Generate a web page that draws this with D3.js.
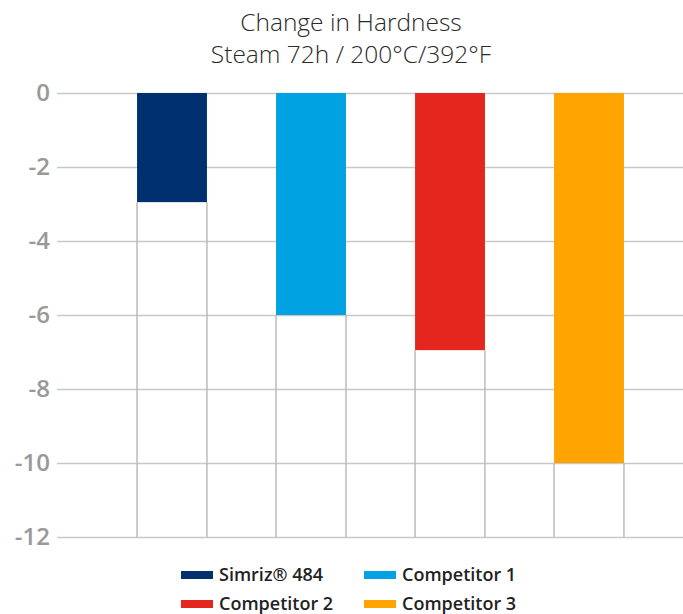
<!DOCTYPE html>
<html>
<head>
<meta charset="utf-8">
<script src="https://cdn.jsdelivr.net/npm/d3@7"></script>
<style>
  body { margin: 0; background: #fff; }
  text { font-family: "Open Sans", sans-serif; }
</style>
</head>
<body>
<div id="chart"></div>
<script>
// data
const categories = ["Simriz® 484", "Competitor 1", "Competitor 2", "Competitor 3"];
const values = [-2.95, -6, -6.95, -10];
const colors = ["#003070", "#00a2e1", "#e5261e", "#ffa400"];
const ticks = [0, -2, -4, -6, -8, -10, -12];

const width = 683;
const height = 614;

const svg = d3.select("#chart").append("svg")
  .attr("width", width)
  .attr("height", height);

// scales
const x = d3.scaleBand()
  .domain(categories)
  .range([102.5, 658.5])
  .paddingInner(0.497)
  .paddingOuter(0.2485);

const y = d3.scaleLinear()
  .domain([0, -12])
  .range([93, 537]);

// title
const titleLines = ["Change in Hardness", "Steam 72h / 200°C/392°F"];
titleLines.forEach((t, i) => {
  svg.append("text")
    .attr("x", 351).attr("y", 31 + i * 32)
    .attr("text-anchor", "middle")
    .attr("font-size", 24.5).attr("font-weight", 300)
    .attr("fill", "#2a2a2a")
    .text(t);
});

// horizontal grid + labels
const yAxis = d3.axisLeft(y)
  .tickValues(ticks)
  .tickSize(-(width - 57))
  .tickPadding(7)
  .tickFormat(d3.format("d"));

const gy = svg.append("g")
  .attr("transform", "translate(57,0)")
  .call(yAxis);
gy.select(".domain").remove();
gy.selectAll(".tick line").attr("stroke", "#c8c8c8").attr("stroke-width", 1.5);
gy.selectAll(".tick text")
  .attr("fill", "#999")
  .attr("font-size", 24)
  .attr("font-weight", 600)
  .attr("dy", "0.32em")
  .text(d => d === 0 ? "0" : "-" + Math.abs(d));

// vertical lines below bars
const vlines = svg.append("g");
categories.forEach((c, i) => {
  [x(c), x(c) + x.bandwidth()].forEach(xx => {
    vlines.append("line")
      .attr("x1", xx).attr("x2", xx)
      .attr("y1", y(values[i])).attr("y2", y(-12))
      .attr("stroke", "#bbb").attr("stroke-width", 1.5);
  });
});

// bars
svg.append("g").selectAll("rect")
  .data(values)
  .enter()
  .append("rect")
  .attr("x", (d, i) => x(categories[i]))
  .attr("y", y(0))
  .attr("width", x.bandwidth())
  .attr("height", d => y(d) - y(0))
  .attr("fill", (d, i) => colors[i]);

// legend
const legendPos = [[181, 575], [364, 575], [181, 604], [364, 604]];
const legend = svg.append("g");
categories.forEach((c, i) => {
  const [lx, ly] = legendPos[i];
  legend.append("rect")
    .attr("x", lx).attr("y", ly - 4)
    .attr("width", 32).attr("height", 8)
    .attr("fill", colors[i]);
  legend.append("text")
    .attr("x", lx + 38).attr("y", ly + 6)
    .attr("font-size", 18).attr("font-weight", 600)
    .attr("fill", "#222")
    .text(c);
});
</script>
</body>
</html>
